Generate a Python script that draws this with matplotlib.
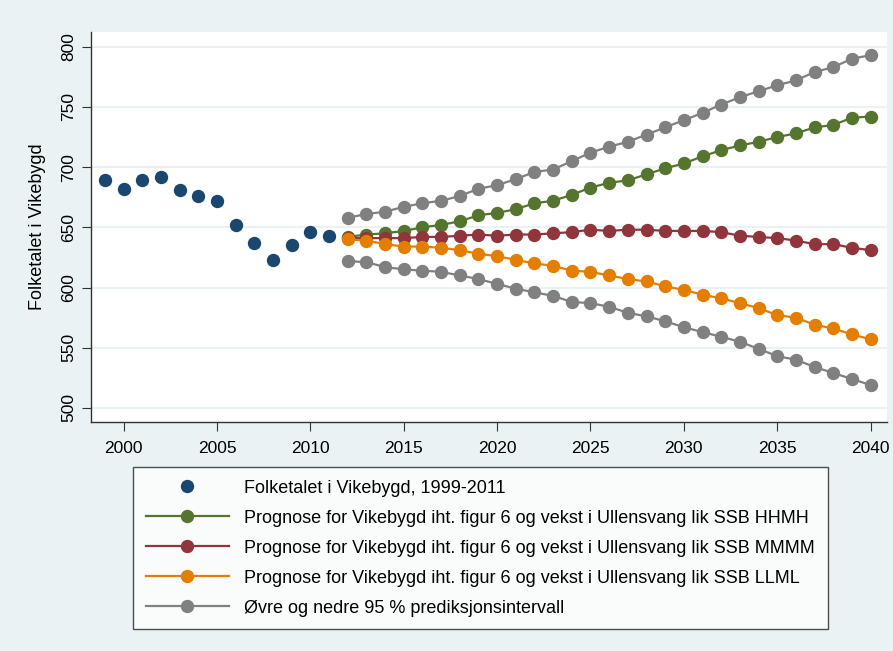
import matplotlib
matplotlib.use("Agg")
import matplotlib.pyplot as plt

plt.rcParams['font.family'] = ['Liberation Sans', 'DejaVu Sans']

# observed population 1999-2011
obs_years = list(range(1999, 2012))
obs_pop = [689, 682, 689, 692, 681, 676, 672, 652, 637, 623, 635, 646, 643]

# forecasts 2012-2040
fc_years = list(range(2012, 2041))
hhmh = [642, 644, 645, 647, 650, 652, 655, 660, 662, 665, 670, 672, 677, 683, 687,
        689, 694, 699, 703, 709, 714, 718, 721, 725, 728, 733, 735, 741, 742]
mmmm = [641, 641, 641, 641, 642, 642, 643, 644, 643, 644, 644, 645, 646, 648, 647,
        648, 648, 647, 647, 647, 646, 643, 642, 641, 639, 636, 636, 633, 631]
llml = [640, 639, 636, 634, 634, 633, 631, 628, 626, 623, 620, 618, 614, 613, 610,
        607, 605, 601, 598, 594, 591, 587, 583, 577, 575, 569, 566, 561, 557]
upper = [658, 661, 663, 667, 670, 672, 676, 682, 685, 690, 696, 698, 705, 712, 717,
         721, 727, 733, 739, 745, 752, 758, 763, 768, 772, 779, 783, 790, 793]
lower = [622, 621, 617, 615, 614, 613, 610, 607, 603, 599, 596, 593, 588, 587, 584,
         579, 576, 572, 567, 563, 559, 555, 549, 543, 540, 534, 529, 524, 519]

labels = ["Folketalet i Vikebygd, 1999-2011",
          "Prognose for Vikebygd iht. figur 6 og vekst i Ullensvang lik SSB HHMH",
          "Prognose for Vikebygd iht. figur 6 og vekst i Ullensvang lik SSB MMMM",
          "Prognose for Vikebygd iht. figur 6 og vekst i Ullensvang lik SSB LLML",
          "Øvre og nedre 95 % prediksjonsintervall"]

bg = "#EAF2F3"
navy = "#1A476F"
green = "#55752F"
maroon = "#90353B"
orange = "#E37E00"
grey = "#808080"

fig = plt.figure(figsize=(8.93, 6.51), dpi=100, facecolor=bg)
ax = fig.add_axes([0.1019, 0.3518, 0.8914, 0.599])
ax.set_facecolor("white")

ms = 8.6
lw = 1.6
h0, = ax.plot(obs_years, obs_pop, "o", color=navy, ms=ms, ls="none", label=labels[0])
h1, = ax.plot(fc_years, hhmh, "-o", color=green, ms=ms, lw=lw, label=labels[1])
h2, = ax.plot(fc_years, mmmm, "-o", color=maroon, ms=ms, lw=lw, label=labels[2])
h3, = ax.plot(fc_years, llml, "-o", color=orange, ms=ms, lw=lw, label=labels[3])
h4, = ax.plot(fc_years, upper, "-o", color=grey, ms=ms, lw=lw, label=labels[4])
ax.plot(fc_years, lower, "-o", color=grey, ms=ms, lw=lw)

ax.set_xlim(1998.25, 2040.88)
ax.set_ylim(488.3, 812.2)
ax.set_xticks(range(2000, 2041, 5))
ax.set_yticks(range(500, 801, 50))
ax.grid(axis="y", color=bg, lw=1.5)
ax.set_axisbelow(True)
for s in ["top", "right"]:
    ax.spines[s].set_visible(False)
for s in ["left", "bottom"]:
    ax.spines[s].set_color("#333333")
    ax.spines[s].set_linewidth(1.0)
ax.tick_params(axis="both", labelsize=12.5, length=6.5, color="#333333")
ax.tick_params(axis="x", pad=7)
ax.tick_params(axis="y", pad=4)
for t in ax.get_yticklabels():
    t.set_rotation(90)
    t.set_va("center")
ax.set_ylabel("Folketalet i Vikebygd", fontsize=13, labelpad=11)

leg = fig.legend(handles=[h0, h1, h2, h3, h4], loc="upper left",
                 bbox_to_anchor=(0.149, 0.0292, 0.778, 0.2535), mode="expand",
                 fontsize=13, frameon=True, fancybox=False, edgecolor="#222222",
                 handlelength=4.6, handletextpad=0.83, labelspacing=0.72,
                 borderpad=0.7, borderaxespad=0)
leg.get_frame().set_linewidth(1.0)

fig.savefig("out.png", dpi=100, facecolor=bg)
